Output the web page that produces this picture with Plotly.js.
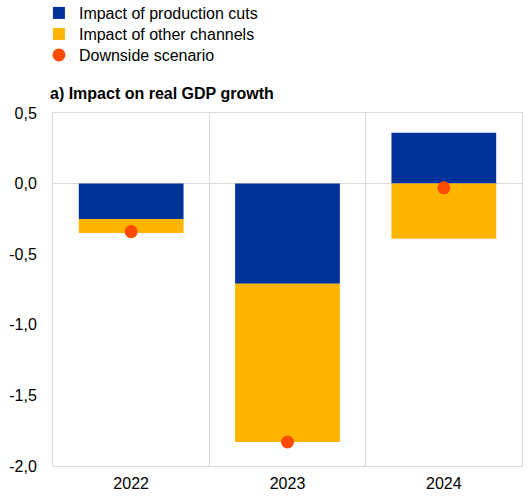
<!DOCTYPE html>
<html>
<head>
<meta charset="utf-8">
<script src="https://cdn.plot.ly/plotly-3.0.1.min.js"></script>
<style>html,body{margin:0;padding:0;background:#fff}#chart{width:529px;height:499px}</style>
</head>
<body>
<div id="chart"></div>
<script>
var years = ['2022', '2023', '2024'];
var productionCuts = [-0.25, -0.71, 0.36];
var otherChannels = [-0.10, -1.12, -0.39];
var downside = [-0.34, -1.83, -0.03];
var yTicks = [0.5, 0.0, -0.5, -1.0, -1.5, -2.0];
var yTickText = ['0,5', '0,0', '-0,5', '-1,0', '-1,5', '-2,0'];

var font = 'Liberation Sans, Arial, sans-serif';
var data = [
  {type: 'bar', name: 'Impact of production cuts', x: years, y: productionCuts, legend: 'legend',
   marker: {color: '#003299', line: {width: 0}}, width: 0.67},
  {type: 'bar', name: 'Impact of other channels', x: years, y: otherChannels, legend: 'legend2',
   marker: {color: '#FFB400', line: {width: 0}}, width: 0.67},
  {type: 'scatter', mode: 'markers', name: 'Downside scenario', x: years, y: downside, legend: 'legend3',
   marker: {color: '#FF4B00', size: 13}}
];
function leg(centerPx) {
  return {x: -0.03, xanchor: 'left', y: 1 - centerPx/499, yanchor: 'middle', yref: 'container',
          traceorder: 'normal', font: {family: font, size: 16, color: '#000'},
          bgcolor: 'rgba(0,0,0,0)'};
}
var layout = {
  width: 529, height: 499,
  margin: {l: 53, r: 7, t: 113, b: 33},
  paper_bgcolor: '#fff', plot_bgcolor: '#fff',
  barmode: 'relative', bargap: 0.33,
  separators: ',.',
  font: {family: font, size: 16, color: '#000'},
  title: {text: '<b>a) Impact on real GDP growth</b>', font: {family: font, size: 16, color: '#000'},
          x: 50/529, xanchor: 'left', xref: 'container', y: 1 - 93/499, yanchor: 'middle', yref: 'container'},
  showlegend: true,
  legend: leg(13), legend2: leg(34), legend3: leg(55),
  xaxis: {type: 'category', tickson: 'boundaries', showgrid: true, gridcolor: '#d9d9d9', gridwidth: 1,
          showline: true, linecolor: '#d9d9d9', mirror: true, ticks: '', ticklabelstandoff: 3,
          tickfont: {family: font, size: 16, color: '#000'}, fixedrange: true},
  yaxis: {range: [-2.0, 0.5], tickvals: yTicks, ticktext: yTickText, showgrid: false,
          zeroline: true, zerolinecolor: '#d9d9d9', zerolinewidth: 1,
          showline: true, linecolor: '#d9d9d9', mirror: true, ticks: '', ticklabelstandoff: 12,
          tickfont: {family: font, size: 16, color: '#000'}, fixedrange: true}
};
Plotly.newPlot('chart', data, layout, {displayModeBar: false, staticPlot: true});
</script>
</body>
</html>
